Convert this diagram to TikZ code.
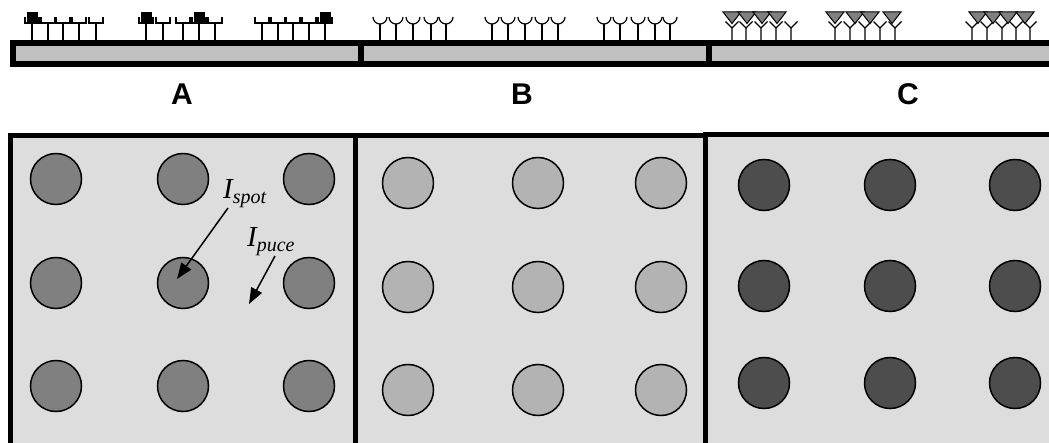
\documentclass[tikz,border=0pt]{standalone}
\usepackage{fontspec}
\setmainfont{Liberation Serif}
\newfontfamily\labelfont{Liberation Sans}
\usetikzlibrary{arrows.meta}

\definecolor{panelgray}{HTML}{DDDDDD}
\definecolor{stripgray}{HTML}{C0C0C0}
\definecolor{spotA}{HTML}{808080}
\definecolor{spotB}{HTML}{B3B3B3}
\definecolor{spotC}{HTML}{4D4D4D}

\tikzset{
  strip/.style={draw=black, line width=6pt, fill=stripgray},
  panel/.style={draw=black, line width=5pt, fill=panelgray},
  spot/.style={draw=black, line width=1.5pt},
  probe/.style={black, line width=1.2pt},
  letter/.style={font=\labelfont\bfseries\fontsize{30}{32}\selectfont},
  intens/.style={font=\fontsize{29}{30}\selectfont\itshape, anchor=base west, inner sep=0pt},
  pointer/.style={line width=1.5pt, -{Triangle[length=16pt,width=12pt]}}
}

\begin{document}
\begin{tikzpicture}[x=1pt, y=-1pt]
    \useasboundingbox (0,0) rectangle (1049,443);

    % Support strips under the probes
    \draw[strip] (12.5,43.5) rectangle (360.5,64);
    \draw[strip] (360.5,43.5) rectangle (708.5,64);
    \draw[strip] (708.5,43.5) rectangle (1070,64);

    % A: square-cup probes, a few of them with a bound target
    \foreach \x in {32,48,63,79,96, 146,163,183,199,215, 262,278,293,309,325} {
        \draw[probe] (\x,40) -- (\x,23);
        \draw[probe] (\x-7,17) -- (\x-7,23) -- (\x+7,23) -- (\x+7,17);
    }
    \foreach \x in {32,146,199,325}
        \filldraw[black] (\x-5,12) rectangle (\x+5,22);

    % B: round-cup probes, none bound
    \foreach \x in {380,396,413,431,446, 492,508,525,542,558, 604,620,638,655,670} {
        \draw[probe] (\x,40) -- (\x,24);
        \draw[probe] (\x-7,17) arc[start angle=180, end angle=0, radius=7];
    }

    % C: Y-shaped probes with many bound targets
    \foreach \x in {732,746,761,776,791, 835,850,865,880,895, 972,987,1002,1016,1030}
        \draw[probe] (\x,40) -- (\x,28) -- (\x-6.5,21.5) (\x,28) -- (\x+6.5,21.5);
    \foreach \x in {732,747,762,777, 835,855,870,892, 978,993,1008,1025}
        \filldraw[fill=spotA, draw=black, line width=1pt]
            (\x-9,12) -- (\x+9,12) -- (\x,23.5) -- cycle;

    % Panel letters
    \node[letter] (lblA) at (182,94) {A};
    \node[letter] (lblB) at (522,94) {B};
    \node[letter] (lblC) at (908,94) {C};

    % Array panels
    \draw[panel] (10,135.5) rectangle (355.5,446);
    \draw[panel] (355.5,135.5) rectangle (705.5,446);
    \draw[panel] (705.5,134.5) rectangle (1070,446);

    % Spots, 3 x 3 in each panel
    \foreach \x in {56,183,309}
        \foreach \y in {179,283,386}
            \filldraw[spot, fill=spotA] (\x,\y) circle (25.5);
    \foreach \x in {408,538,661}
        \foreach \y in {183,287,390}
            \filldraw[spot, fill=spotB] (\x,\y) circle (25.5);
    \foreach \x in {764,890,1015}
        \foreach \y in {185,286,383}
            \filldraw[spot, fill=spotC] (\x,\y) circle (25.5);

    % Intensity labels and arrows
    \node[intens] (ispot) at (223,199) {I\raisebox{-5pt}{\fontsize{20}{20}\selectfont spot}};
    \node[intens] (ipuce) at (247,247) {I\raisebox{-5pt}{\fontsize{20}{20}\selectfont puce}};
    \coordinate (spotfrom) at (228,208);
    \coordinate (spotto) at (177,279);
    \coordinate (pucefrom) at (275,256);
    \coordinate (puceto) at (249,304);
    \draw[pointer] (spotfrom) -- (spotto);
    \draw[pointer] (pucefrom) -- (puceto);
\end{tikzpicture}
\end{document}
